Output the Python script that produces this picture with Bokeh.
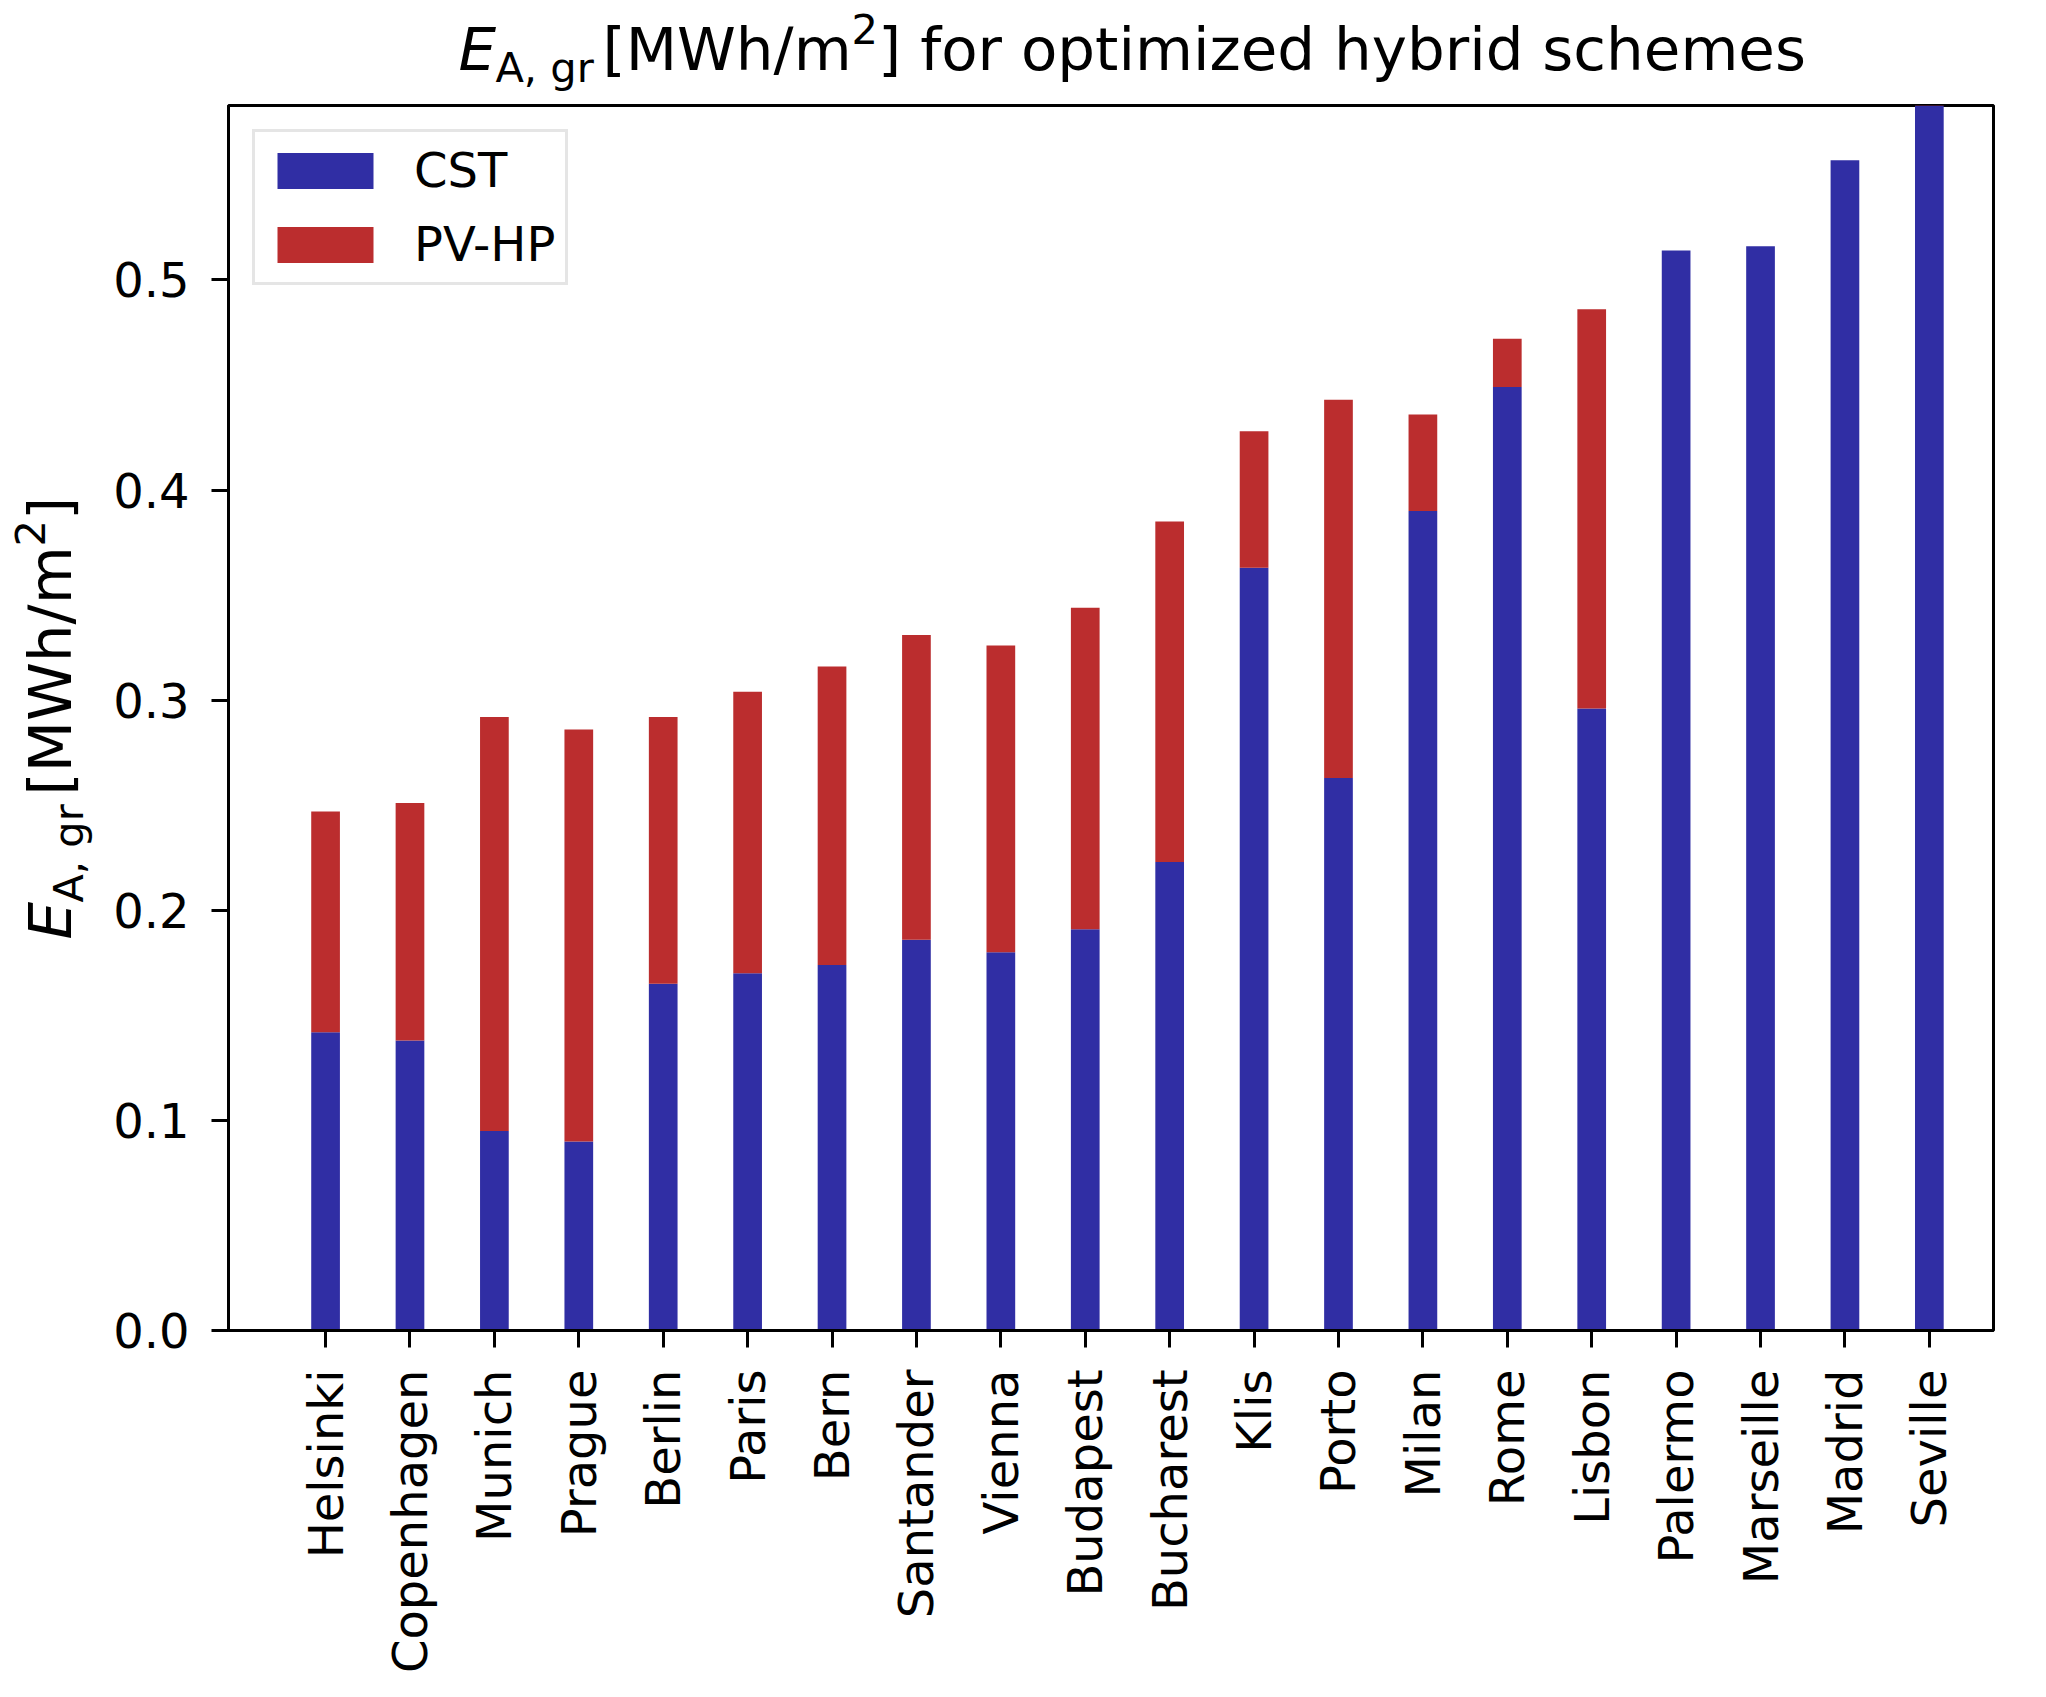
import math
from bokeh.plotting import figure
from bokeh.layouts import column, row
from bokeh.models import ColumnDataSource, Range1d, FixedTicker, PrintfTickFormatter, Label
from bokeh.embed import file_html
from bokeh.resources import INLINE

# data
cities = ["Helsinki", "Copenhagen", "Munich", "Prague", "Berlin", "Paris", "Bern",
          "Santander", "Vienna", "Budapest", "Bucharest", "Klis", "Porto", "Milan",
          "Rome", "Lisbon", "Palermo", "Marseille", "Madrid", "Seville"]
cst = [0.142, 0.138, 0.095, 0.090, 0.165, 0.170, 0.174, 0.186, 0.180, 0.191,
       0.223, 0.363, 0.263, 0.390, 0.449, 0.296, 0.514, 0.516, 0.557, 0.590]
pv_hp = [0.105, 0.113, 0.197, 0.196, 0.127, 0.134, 0.142, 0.145, 0.146, 0.153,
         0.162, 0.065, 0.180, 0.046, 0.023, 0.190, 0.0, 0.0, 0.0, 0.0]
y_ticks = [0.0, 0.1, 0.2, 0.3, 0.4, 0.5]

BLUE = "#302ea4"
RED = "#bb2d2e"
FONT = "DejaVu Sans"

W, H = 2030, 1681
TOP_H = 100      # strip holding the title
LEFT_W = 100     # strip holding the y label
MAIN_W, MAIN_H = W - LEFT_W, H - TOP_H
B_TOP, B_BOTTOM = 5, 351

source = ColumnDataSource(data=dict(x=list(range(len(cities))), cst=cst, pv_hp=pv_hp))

p = figure(width=MAIN_W, height=MAIN_H, title=None, output_backend="svg", toolbar_location=None,
           x_range=Range1d(-1.15, len(cities) - 1 + 0.76), y_range=Range1d(0, 0.583),
           min_border_left=128, min_border_right=37, min_border_top=B_TOP, min_border_bottom=B_BOTTOM)

p.vbar_stack(["cst", "pv_hp"], x="x", width=0.34, color=[BLUE, RED], source=source,
             line_width=0, legend_label=["CST", "PV-HP"])

# axes
p.xgrid.visible = False
p.ygrid.visible = False
p.outline_line_color = "black"
p.outline_line_width = 3
for ax in (p.xaxis[0], p.yaxis[0]):
    ax.axis_line_width = 3
    ax.major_tick_line_width = 3
    ax.major_tick_out = 17
    ax.major_tick_in = 0
    ax.minor_tick_line_color = None
    ax.major_label_text_font = FONT
    ax.major_label_text_color = "black"
    ax.major_label_text_font_size = "48px"
    ax.major_label_standoff = 22

p.xaxis.ticker = FixedTicker(ticks=list(range(len(cities))))
p.xaxis.major_label_overrides = {i: c for i, c in enumerate(cities)}
p.xaxis.major_label_orientation = math.pi / 2

p.yaxis.ticker = FixedTicker(ticks=y_ticks)
p.yaxis.formatter = PrintfTickFormatter(format="%.1f")

# legend
lg = p.legend[0]
lg.location = "top_left"
lg.margin = 24
lg.padding = 10
lg.spacing = 18
lg.glyph_width = 120
lg.glyph_height = 45
lg.label_standoff = 29
lg.label_text_font = FONT
lg.label_text_font_size = "48px"
lg.label_text_color = "black"
lg.border_line_color = "#cccccc"
lg.border_line_width = 3
lg.background_fill_alpha = 0.8


def text_strip(w, h, top=0, bottom=0):
    # blank figure whose data units are its frame pixels, used to hold the composed texts
    f = figure(width=w, height=h, title=None, output_backend="svg", toolbar_location=None,
               x_range=Range1d(0, w), y_range=Range1d(0, h - top - bottom),
               x_axis_location=None, y_axis_location=None, min_border_left=0,
               min_border_right=0, min_border_top=top, min_border_bottom=bottom)
    f.grid.visible = False
    f.outline_line_color = None
    return f


def math_label(f, x0, y0, size, tail, angle=0.0):
    # italic E, subscript, superscript; offsets along / across the text in font-size units
    pieces = [("E", 0.0, 0.0, 1.0, "italic"),
              ("A, gr", 0.62, -0.2, 0.7, "normal"),
              ("[MWh/m", 2.42, 0.0, 1.0, "normal"),
              ("2", 6.607, 0.45, 0.7, "normal"),
              (tail, 7.052, 0.0, 1.0, "normal")]
    ca, sa = math.cos(angle), math.sin(angle)
    for txt, along, across, scale, style in pieces:
        across += 0.36 * scale   # baseline correction of the rendered text box
        dx = along * size * ca - across * size * sa
        dy = along * size * sa + across * size * ca
        f.add_layout(Label(x=x0 + dx, y=y0 + dy, text=txt, angle=angle,
                           text_font=FONT, text_font_style=style,
                           text_font_size=f"{size * scale:.1f}px", text_color="black",
                           text_align="left", text_baseline="alphabetic"))


title_fig = text_strip(W, TOP_H)
math_label(title_fig, 458, 30, 59.5, "] for optimized hybrid schemes")

ylab_fig = text_strip(LEFT_W, MAIN_H, B_TOP, B_BOTTOM)
math_label(ylab_fig, 71, 391, 59.5, "]", angle=math.pi / 2)

layout = column(title_fig, row(ylab_fig, p, spacing=0), spacing=0)

open("out.html", "w").write(file_html(layout, INLINE))
